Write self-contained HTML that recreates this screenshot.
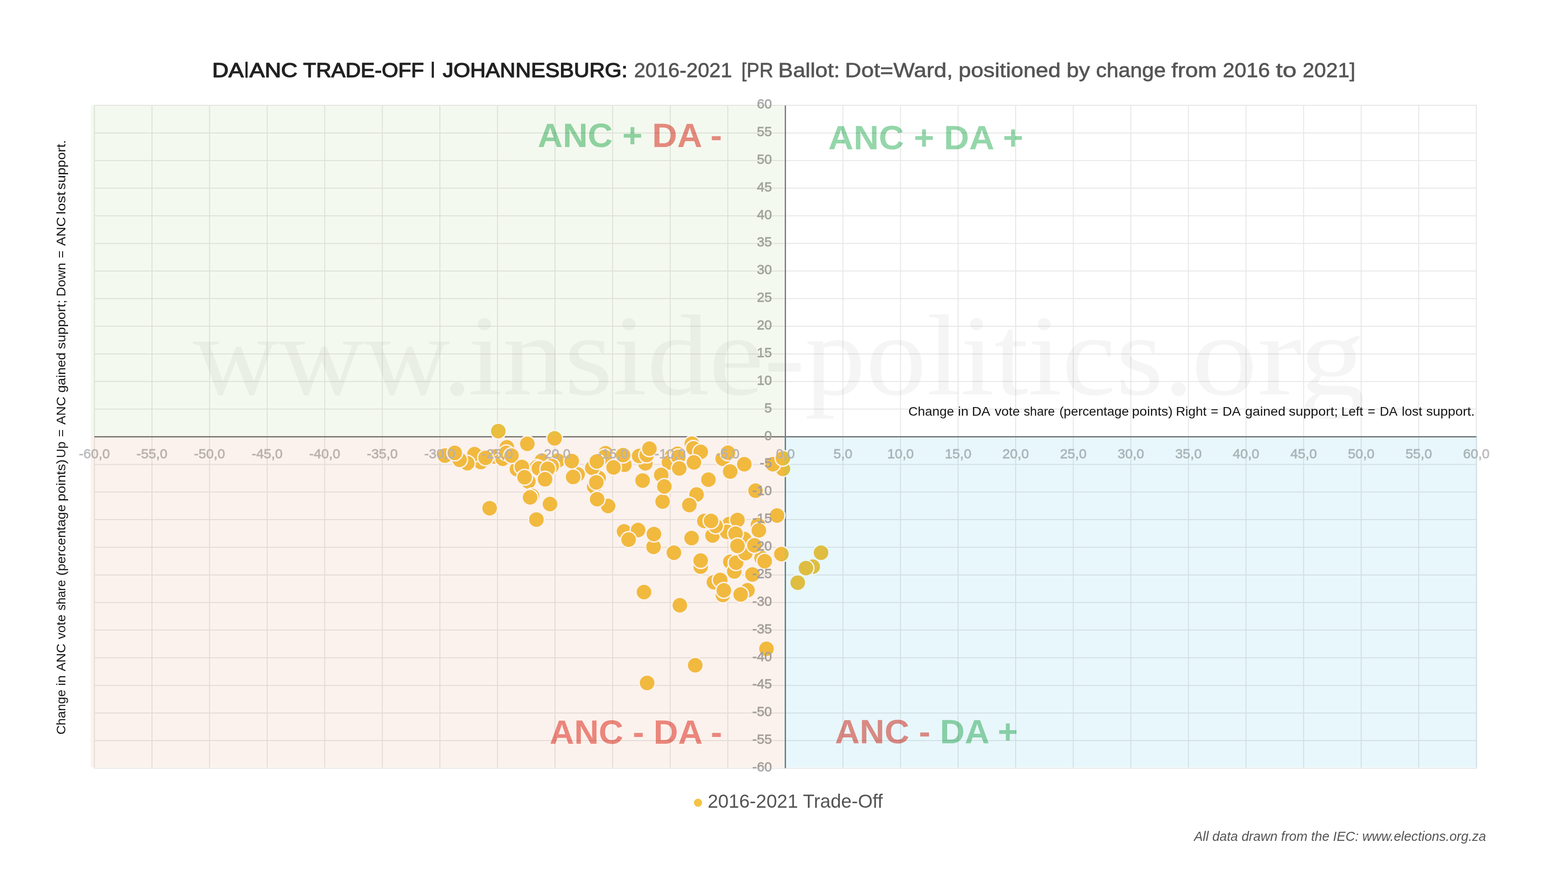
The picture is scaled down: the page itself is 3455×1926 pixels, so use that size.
<!DOCTYPE html>
<html><head><meta charset="utf-8"><title>DA|ANC Trade-off Johannesburg</title>
<style>
html,body{margin:0;padding:0;background:#fff;}
body{width:3455px;height:1926px;overflow:hidden;}
svg{display:block;}
.sans{font-family:"Liberation Sans",Arial,Helvetica,sans-serif;}
.serif{font-family:"Liberation Serif","Times New Roman",serif;}
</style></head><body>
<svg xmlns="http://www.w3.org/2000/svg" width="3455" height="1926" viewBox="0 0 3455 1926">
<rect x="0" y="0" width="3455" height="1926" fill="#ffffff"/>
<g class="serif" font-size="254" fill="#f5f5f5"><text x="425.2" y="869" textLength="615.2" lengthAdjust="spacingAndGlyphs">www.</text><text x="1031.4" y="869" textLength="742.6" lengthAdjust="spacingAndGlyphs">inside-</text><text x="1773.5" y="869" textLength="856.9" lengthAdjust="spacingAndGlyphs">politics.</text><text x="2624.9" y="869" textLength="384.2" lengthAdjust="spacingAndGlyphs">org</text></g>
<g class="sans" font-weight="bold" font-size="74">
<text x="1184.8" y="323.6" textLength="406.2" lengthAdjust="spacingAndGlyphs"><tspan fill="#94d6aa">ANC + </tspan><tspan fill="#ef8d85">DA -</tspan></text>
<text x="1825" y="328.8" textLength="429.8" lengthAdjust="spacingAndGlyphs"><tspan fill="#94d6aa">ANC + DA +</tspan></text>
<text x="1211" y="1638.8" textLength="380.3" lengthAdjust="spacingAndGlyphs"><tspan fill="#ef8d85">ANC - DA -</tspan></text>
<text x="1839.7" y="1637.7" textLength="403.1" lengthAdjust="spacingAndGlyphs"><tspan fill="#ef8d85">ANC - </tspan><tspan fill="#94d6aa">DA +</tspan></text>
</g>
<g stroke="#000" opacity="0.095" stroke-width="2" fill="none">
<line x1="208.00" y1="231.0" x2="208.00" y2="1694.0"/>
<line x1="334.88" y1="231.0" x2="334.88" y2="1694.0"/>
<line x1="461.75" y1="231.0" x2="461.75" y2="1694.0"/>
<line x1="588.62" y1="231.0" x2="588.62" y2="1694.0"/>
<line x1="715.50" y1="231.0" x2="715.50" y2="1694.0"/>
<line x1="842.38" y1="231.0" x2="842.38" y2="1694.0"/>
<line x1="969.25" y1="231.0" x2="969.25" y2="1694.0"/>
<line x1="1096.12" y1="231.0" x2="1096.12" y2="1694.0"/>
<line x1="1223.00" y1="231.0" x2="1223.00" y2="1694.0"/>
<line x1="1349.88" y1="231.0" x2="1349.88" y2="1694.0"/>
<line x1="1476.75" y1="231.0" x2="1476.75" y2="1694.0"/>
<line x1="1603.62" y1="231.0" x2="1603.62" y2="1694.0"/>
<line x1="1730.50" y1="231.0" x2="1730.50" y2="1694.0"/>
<line x1="1857.38" y1="231.0" x2="1857.38" y2="1694.0"/>
<line x1="1984.25" y1="231.0" x2="1984.25" y2="1694.0"/>
<line x1="2111.12" y1="231.0" x2="2111.12" y2="1694.0"/>
<line x1="2238.00" y1="231.0" x2="2238.00" y2="1694.0"/>
<line x1="2364.88" y1="231.0" x2="2364.88" y2="1694.0"/>
<line x1="2491.75" y1="231.0" x2="2491.75" y2="1694.0"/>
<line x1="2618.62" y1="231.0" x2="2618.62" y2="1694.0"/>
<line x1="2745.50" y1="231.0" x2="2745.50" y2="1694.0"/>
<line x1="2872.38" y1="231.0" x2="2872.38" y2="1694.0"/>
<line x1="2999.25" y1="231.0" x2="2999.25" y2="1694.0"/>
<line x1="3126.12" y1="231.0" x2="3126.12" y2="1694.0"/>
<line x1="3253.00" y1="231.0" x2="3253.00" y2="1694.0"/>
<line x1="207.0" y1="232.00" x2="3254.0" y2="232.00"/>
<line x1="207.0" y1="292.88" x2="3254.0" y2="292.88"/>
<line x1="207.0" y1="353.75" x2="3254.0" y2="353.75"/>
<line x1="207.0" y1="414.62" x2="3254.0" y2="414.62"/>
<line x1="207.0" y1="475.50" x2="3254.0" y2="475.50"/>
<line x1="207.0" y1="536.38" x2="3254.0" y2="536.38"/>
<line x1="207.0" y1="597.25" x2="3254.0" y2="597.25"/>
<line x1="207.0" y1="658.12" x2="3254.0" y2="658.12"/>
<line x1="207.0" y1="719.00" x2="3254.0" y2="719.00"/>
<line x1="207.0" y1="779.88" x2="3254.0" y2="779.88"/>
<line x1="207.0" y1="840.75" x2="3254.0" y2="840.75"/>
<line x1="207.0" y1="901.62" x2="3254.0" y2="901.62"/>
<line x1="207.0" y1="962.50" x2="3254.0" y2="962.50"/>
<line x1="207.0" y1="1023.38" x2="3254.0" y2="1023.38"/>
<line x1="207.0" y1="1084.25" x2="3254.0" y2="1084.25"/>
<line x1="207.0" y1="1145.12" x2="3254.0" y2="1145.12"/>
<line x1="207.0" y1="1206.00" x2="3254.0" y2="1206.00"/>
<line x1="207.0" y1="1266.88" x2="3254.0" y2="1266.88"/>
<line x1="207.0" y1="1327.75" x2="3254.0" y2="1327.75"/>
<line x1="207.0" y1="1388.62" x2="3254.0" y2="1388.62"/>
<line x1="207.0" y1="1449.50" x2="3254.0" y2="1449.50"/>
<line x1="207.0" y1="1510.38" x2="3254.0" y2="1510.38"/>
<line x1="207.0" y1="1571.25" x2="3254.0" y2="1571.25"/>
<line x1="207.0" y1="1632.12" x2="3254.0" y2="1632.12"/>
<line x1="207.0" y1="1693.00" x2="3254.0" y2="1693.00"/>
</g>
<line x1="1730.5" y1="232.5" x2="1730.5" y2="1693.0" stroke="#808080" stroke-width="3"/>
<line x1="208.0" y1="962.5" x2="3253.0" y2="962.5" stroke="#808080" stroke-width="3"/>
<g fill="#f5c342" stroke="#ffffff" stroke-width="3">
<circle cx="1089.4" cy="1006.1" r="17.5"/>
<circle cx="1059.5" cy="1018.1" r="17.5"/>
<circle cx="1045.5" cy="1000.8" r="17.5"/>
<circle cx="1029.7" cy="1020.8" r="17.5"/>
<circle cx="1012.7" cy="1013.1" r="17.5"/>
<circle cx="980.3" cy="1004.0" r="17.5"/>
<circle cx="1002.0" cy="998.1" r="17.5"/>
<circle cx="1069.9" cy="1008.9" r="17.5"/>
<circle cx="1107.6" cy="1011.0" r="17.5"/>
<circle cx="1194.2" cy="1014.9" r="17.5"/>
<circle cx="1229.0" cy="1015.0" r="17.5"/>
<circle cx="1422.0" cy="1020.9" r="17.5"/>
<circle cx="1480.0" cy="1006.0" r="17.5"/>
<circle cx="1116.8" cy="985.7" r="17.5"/>
<circle cx="1115.6" cy="998.1" r="17.5"/>
<circle cx="1164.2" cy="1061.0" r="17.5"/>
<circle cx="1182.2" cy="1029.8" r="17.5"/>
<circle cx="1187.2" cy="1032.3" r="17.5"/>
<circle cx="1215.8" cy="1027.1" r="17.5"/>
<circle cx="1272.8" cy="1045.2" r="17.5"/>
<circle cx="1319.0" cy="1053.2" r="17.5"/>
<circle cx="1305.0" cy="1031.0" r="17.5"/>
<circle cx="1309.2" cy="1072.5" r="17.5"/>
<circle cx="1334.4" cy="998.8" r="17.5"/>
<circle cx="1332.3" cy="1006.8" r="17.5"/>
<circle cx="1375.8" cy="1024.1" r="17.5"/>
<circle cx="1408.3" cy="1004.8" r="17.5"/>
<circle cx="1424.9" cy="1002.8" r="17.5"/>
<circle cx="1474.0" cy="1019.0" r="17.5"/>
<circle cx="1524.5" cy="977.8" r="17.5"/>
<circle cx="1528.1" cy="987.9" r="17.5"/>
<circle cx="1492.6" cy="1000.0" r="17.5"/>
<circle cx="1494.7" cy="1006.8" r="17.5"/>
<circle cx="1592.4" cy="1010.9" r="17.5"/>
<circle cx="1725.1" cy="1033.1" r="17.5"/>
<circle cx="1172.3" cy="1092.7" r="17.5"/>
<circle cx="1670.0" cy="1156.9" r="17.5"/>
<circle cx="1543.9" cy="1248.8" r="17.5"/>
<circle cx="1609.2" cy="1238.0" r="17.5"/>
<circle cx="1617.9" cy="1259.1" r="17.5"/>
<circle cx="1678.0" cy="1229.6" r="17.5"/>
<circle cx="1573.0" cy="1283.0" r="17.5"/>
<circle cx="1647.0" cy="1300.8" r="17.5"/>
<circle cx="1592.8" cy="1311.1" r="17.5"/>
<circle cx="1790.8" cy="1248.8" r="17.5"/>
<circle cx="1139.0" cy="1033.9" r="17.5"/>
<circle cx="1127.0" cy="1004.0" r="17.5"/>
<circle cx="1570.0" cy="1180.0" r="17.5"/>
<circle cx="1606.9" cy="1154.8" r="17.5"/>
<circle cx="1601.9" cy="1171.9" r="17.5"/>
<circle cx="1576.9" cy="1159.0" r="17.5"/>
<circle cx="1551.9" cy="1148.0" r="17.5"/>
<circle cx="1566.8" cy="1147.9" r="17.5"/>
<circle cx="1625.0" cy="1145.9" r="17.5"/>
<circle cx="1639.9" cy="1187.8" r="17.5"/>
<circle cx="1620.7" cy="1176.1" r="17.5"/>
<circle cx="1098.0" cy="950.0" r="17.5"/>
<circle cx="1222.0" cy="965.9" r="17.5"/>
<circle cx="1162.0" cy="978.0" r="17.5"/>
<circle cx="1149.9" cy="1028.9" r="17.5"/>
<circle cx="1155.9" cy="1051.8" r="17.5"/>
<circle cx="1207.1" cy="1033.0" r="17.5"/>
<circle cx="1201.0" cy="1056.1" r="17.5"/>
<circle cx="1259.7" cy="1015.9" r="17.5"/>
<circle cx="1262.9" cy="1051.1" r="17.5"/>
<circle cx="1315.1" cy="1016.9" r="17.5"/>
<circle cx="1313.9" cy="1062.9" r="17.5"/>
<circle cx="1351.9" cy="1030.0" r="17.5"/>
<circle cx="1372.9" cy="1002.9" r="17.5"/>
<circle cx="1431.0" cy="988.8" r="17.5"/>
<circle cx="1415.9" cy="1058.9" r="17.5"/>
<circle cx="1457.0" cy="1046.5" r="17.5"/>
<circle cx="1460.0" cy="1105.2" r="17.5"/>
<circle cx="1463.9" cy="1072.0" r="17.5"/>
<circle cx="1496.7" cy="1032.2" r="17.5"/>
<circle cx="1544.0" cy="995.7" r="17.5"/>
<circle cx="1529.0" cy="1019.0" r="17.5"/>
<circle cx="1561.0" cy="1057.0" r="17.5"/>
<circle cx="1534.8" cy="1089.8" r="17.5"/>
<circle cx="1604.0" cy="997.8" r="17.5"/>
<circle cx="1608.9" cy="1039.1" r="17.5"/>
<circle cx="1640.0" cy="1023.0" r="17.5"/>
<circle cx="1664.8" cy="1081.2" r="17.5"/>
<circle cx="1702.9" cy="1023.0" r="17.5"/>
<circle cx="1725.1" cy="1009.9" r="17.5"/>
<circle cx="1168.0" cy="1096.0" r="17.5"/>
<circle cx="1211.9" cy="1110.8" r="17.5"/>
<circle cx="1182.0" cy="1144.9" r="17.5"/>
<circle cx="1339.9" cy="1115.0" r="17.5"/>
<circle cx="1315.8" cy="1100.0" r="17.5"/>
<circle cx="1078.9" cy="1119.9" r="17.5"/>
<circle cx="1375.0" cy="1171.0" r="17.5"/>
<circle cx="1406.0" cy="1168.0" r="17.5"/>
<circle cx="1385.1" cy="1189.1" r="17.5"/>
<circle cx="1440.0" cy="1205.0" r="17.5"/>
<circle cx="1440.9" cy="1176.9" r="17.5"/>
<circle cx="1518.9" cy="1113.0" r="17.5"/>
<circle cx="1523.9" cy="1185.8" r="17.5"/>
<circle cx="1712.2" cy="1136.0" r="17.5"/>
<circle cx="1672.1" cy="1168.8" r="17.5"/>
<circle cx="1721.7" cy="1221.0" r="17.5"/>
<circle cx="1809.1" cy="1217.9" r="17.5"/>
<circle cx="1484.9" cy="1217.9" r="17.5"/>
<circle cx="1543.9" cy="1235.3" r="17.5"/>
<circle cx="1419.0" cy="1304.7" r="17.5"/>
<circle cx="1498.0" cy="1333.8" r="17.5"/>
<circle cx="1621.9" cy="1239.9" r="17.5"/>
<circle cx="1642.4" cy="1218.8" r="17.5"/>
<circle cx="1662.3" cy="1201.8" r="17.5"/>
<circle cx="1625.0" cy="1202.9" r="17.5"/>
<circle cx="1684.9" cy="1236.7" r="17.5"/>
<circle cx="1658.0" cy="1265.9" r="17.5"/>
<circle cx="1587.0" cy="1278.0" r="17.5"/>
<circle cx="1594.9" cy="1301.0" r="17.5"/>
<circle cx="1632.0" cy="1310.0" r="17.5"/>
<circle cx="1775.9" cy="1251.9" r="17.5"/>
<circle cx="1757.8" cy="1283.9" r="17.5"/>
<circle cx="1425.9" cy="1504.9" r="17.5"/>
<circle cx="1531.9" cy="1466.0" r="17.5"/>
<circle cx="1688.9" cy="1429.7" r="17.5"/>
</g>
<g class="sans" font-size="30" fill="#bcbcbc" stroke="#bcbcbc" stroke-width="0.9" text-anchor="middle">
<text x="208.00" y="1010">-60,0</text>
<text x="334.88" y="1010">-55,0</text>
<text x="461.75" y="1010">-50,0</text>
<text x="588.62" y="1010">-45,0</text>
<text x="715.50" y="1010">-40,0</text>
<text x="842.38" y="1010">-35,0</text>
<text x="969.25" y="1010">-30,0</text>
<text x="1096.12" y="1010">-25,0</text>
<text x="1223.00" y="1010">-20,0</text>
<text x="1349.88" y="1010">-15,0</text>
<text x="1476.75" y="1010">-10,0</text>
<text x="1603.62" y="1010">-5,0</text>
<text x="1730.50" y="1010">0,0</text>
<text x="1857.38" y="1010">5,0</text>
<text x="1984.25" y="1010">10,0</text>
<text x="2111.12" y="1010">15,0</text>
<text x="2238.00" y="1010">20,0</text>
<text x="2364.88" y="1010">25,0</text>
<text x="2491.75" y="1010">30,0</text>
<text x="2618.62" y="1010">35,0</text>
<text x="2745.50" y="1010">40,0</text>
<text x="2872.38" y="1010">45,0</text>
<text x="2999.25" y="1010">50,0</text>
<text x="3126.12" y="1010">55,0</text>
<text x="3253.00" y="1010">60,0</text>
</g>
<g class="sans" font-size="30" fill="#a8a8a8" stroke="#a8a8a8" stroke-width="0.9" text-anchor="end">
<text x="1701" y="239.10">60</text>
<text x="1701" y="299.98">55</text>
<text x="1701" y="360.85">50</text>
<text x="1701" y="421.73">45</text>
<text x="1701" y="482.60">40</text>
<text x="1701" y="543.48">35</text>
<text x="1701" y="604.35">30</text>
<text x="1701" y="665.23">25</text>
<text x="1701" y="726.10">20</text>
<text x="1701" y="786.98">15</text>
<text x="1701" y="847.85">10</text>
<text x="1701" y="908.73">5</text>
<text x="1701" y="969.60">0</text>
<text x="1701" y="1030.47">-5</text>
<text x="1701" y="1091.35">-10</text>
<text x="1701" y="1152.22">-15</text>
<text x="1701" y="1213.10">-20</text>
<text x="1701" y="1273.97">-25</text>
<text x="1701" y="1334.85">-30</text>
<text x="1701" y="1395.72">-35</text>
<text x="1701" y="1456.60">-40</text>
<text x="1701" y="1517.47">-45</text>
<text x="1701" y="1578.35">-50</text>
<text x="1701" y="1639.22">-55</text>
<text x="1701" y="1700.10">-60</text>
</g>
<g style="mix-blend-mode:multiply">
<rect x="200" y="232.5" width="1528" height="728.5" fill="#f4f9ef" style="mix-blend-mode:multiply"/>
<rect x="200" y="961" width="1528" height="730" fill="#fbf2ed" style="mix-blend-mode:multiply"/>
<rect x="1728" y="961" width="1527.6" height="730" fill="#e8f7fb" style="mix-blend-mode:multiply"/>
</g>
<g class="sans" font-size="28" fill="#141414"><text x="2001.6" y="916.1" textLength="100.5" lengthAdjust="spacingAndGlyphs">Change</text><text x="2110.8" y="916.1" textLength="23.1" lengthAdjust="spacingAndGlyphs">in</text><text x="2141.5" y="916.1" textLength="40.6" lengthAdjust="spacingAndGlyphs">DA</text><text x="2192.0" y="916.1" textLength="55.2" lengthAdjust="spacingAndGlyphs">vote</text><text x="2255.7" y="916.1" textLength="68.7" lengthAdjust="spacingAndGlyphs">share</text><text x="2334.2" y="916.1" textLength="153.2" lengthAdjust="spacingAndGlyphs">(percentage</text><text x="2494.2" y="916.1" textLength="89.7" lengthAdjust="spacingAndGlyphs">points)</text><text x="2590.9" y="916.1" textLength="67.7" lengthAdjust="spacingAndGlyphs">Right</text><text x="2667.7" y="916.1" textLength="16.8" lengthAdjust="spacingAndGlyphs">=</text><text x="2693.8" y="916.1" textLength="40.0" lengthAdjust="spacingAndGlyphs">DA</text><text x="2743.4" y="916.1" textLength="89.1" lengthAdjust="spacingAndGlyphs">gained</text><text x="2839.8" y="916.1" textLength="108.3" lengthAdjust="spacingAndGlyphs">support;</text><text x="2955.6" y="916.1" textLength="47.9" lengthAdjust="spacingAndGlyphs">Left</text><text x="3013.5" y="916.1" textLength="16.9" lengthAdjust="spacingAndGlyphs">=</text><text x="3040.2" y="916.1" textLength="39.1" lengthAdjust="spacingAndGlyphs">DA</text><text x="3088.8" y="916.1" textLength="45.0" lengthAdjust="spacingAndGlyphs">lost</text><text x="3142.4" y="916.1" textLength="107.1" lengthAdjust="spacingAndGlyphs">support.</text></g>
<g class="sans" font-size="28" fill="#141414" transform="translate(143.6,0) rotate(-90)"><text x="-1618.8" y="0" textLength="99.0" lengthAdjust="spacingAndGlyphs">Change</text><text x="-1511.2" y="0" textLength="23.0" lengthAdjust="spacingAndGlyphs">in</text><text x="-1479.2" y="0" textLength="60.9" lengthAdjust="spacingAndGlyphs">ANC</text><text x="-1408.6" y="0" textLength="54.4" lengthAdjust="spacingAndGlyphs">vote</text><text x="-1345.3" y="0" textLength="67.3" lengthAdjust="spacingAndGlyphs">share</text><text x="-1268.4" y="0" textLength="156.6" lengthAdjust="spacingAndGlyphs">(percentage</text><text x="-1104.7" y="0" textLength="92.5" lengthAdjust="spacingAndGlyphs">points)</text><text x="-1009.3" y="0" textLength="36.3" lengthAdjust="spacingAndGlyphs">Up</text><text x="-963.0" y="0" textLength="16.9" lengthAdjust="spacingAndGlyphs">=</text><text x="-935.8" y="0" textLength="61.9" lengthAdjust="spacingAndGlyphs">ANC</text><text x="-865.3" y="0" textLength="88.5" lengthAdjust="spacingAndGlyphs">gained</text><text x="-769.2" y="0" textLength="108.4" lengthAdjust="spacingAndGlyphs">support;</text><text x="-653.5" y="0" textLength="74.4" lengthAdjust="spacingAndGlyphs">Down</text><text x="-569.0" y="0" textLength="16.8" lengthAdjust="spacingAndGlyphs">=</text><text x="-541.7" y="0" textLength="63.6" lengthAdjust="spacingAndGlyphs">ANC</text><text x="-472.5" y="0" textLength="50.1" lengthAdjust="spacingAndGlyphs">lost</text><text x="-417.9" y="0" textLength="109.2" lengthAdjust="spacingAndGlyphs">support.</text></g>
<g class="sans" font-size="44.7" fill="#222222" stroke="#222222" stroke-width="1.6" stroke-linejoin="round"><text x="467.5" y="170.2" textLength="69.4" lengthAdjust="spacingAndGlyphs">DA</text><text x="549.7" y="170.2" textLength="105.9" lengthAdjust="spacingAndGlyphs">ANC</text><text x="668.1" y="170.2" textLength="266.2" lengthAdjust="spacingAndGlyphs">TRADE-OFF</text><text x="975.5" y="170.2" textLength="407.2" lengthAdjust="spacingAndGlyphs">JOHANNESBURG:</text><text x="538" y="163.4" font-size="37" font-weight="bold" stroke="none">|</text><text x="948.5" y="163.4" font-size="37" font-weight="bold" stroke="none">|</text></g>
<g class="sans" font-size="44.8" fill="#555555" stroke="#555555" stroke-width="0.8" stroke-linejoin="round"><text x="1396.9" y="170.4" textLength="216.2" lengthAdjust="spacingAndGlyphs">2016-2021</text><text x="1633.6" y="170.4" textLength="70.2" lengthAdjust="spacingAndGlyphs">[PR</text><text x="1714.8" y="170.4" textLength="135.9" lengthAdjust="spacingAndGlyphs">Ballot:</text><text x="1861.8" y="170.4" textLength="237.8" lengthAdjust="spacingAndGlyphs">Dot=Ward,</text><text x="2112.1" y="170.4" textLength="225.2" lengthAdjust="spacingAndGlyphs">positioned</text><text x="2350.0" y="170.4" textLength="51.6" lengthAdjust="spacingAndGlyphs">by</text><text x="2415.1" y="170.4" textLength="153.6" lengthAdjust="spacingAndGlyphs">change</text><text x="2581.1" y="170.4" textLength="100.2" lengthAdjust="spacingAndGlyphs">from</text><text x="2694.2" y="170.4" textLength="104.1" lengthAdjust="spacingAndGlyphs">2016</text><text x="2811.0" y="170.4" textLength="46.0" lengthAdjust="spacingAndGlyphs">to</text><text x="2870.2" y="170.4" textLength="116.3" lengthAdjust="spacingAndGlyphs">2021]</text></g>
<circle cx="1538" cy="1769" r="9" fill="#f5c342"/>
<text class="sans" x="1559.2" y="1780" font-size="42.9" fill="#555555" textLength="386" lengthAdjust="spacingAndGlyphs">2016-2021 Trade-Off</text>
<text class="sans" x="2630.9" y="1853" font-size="29" font-style="italic" fill="#555555" textLength="643.5" lengthAdjust="spacingAndGlyphs">All data drawn from the IEC: www.elections.org.za</text>
</svg>
</body></html>
